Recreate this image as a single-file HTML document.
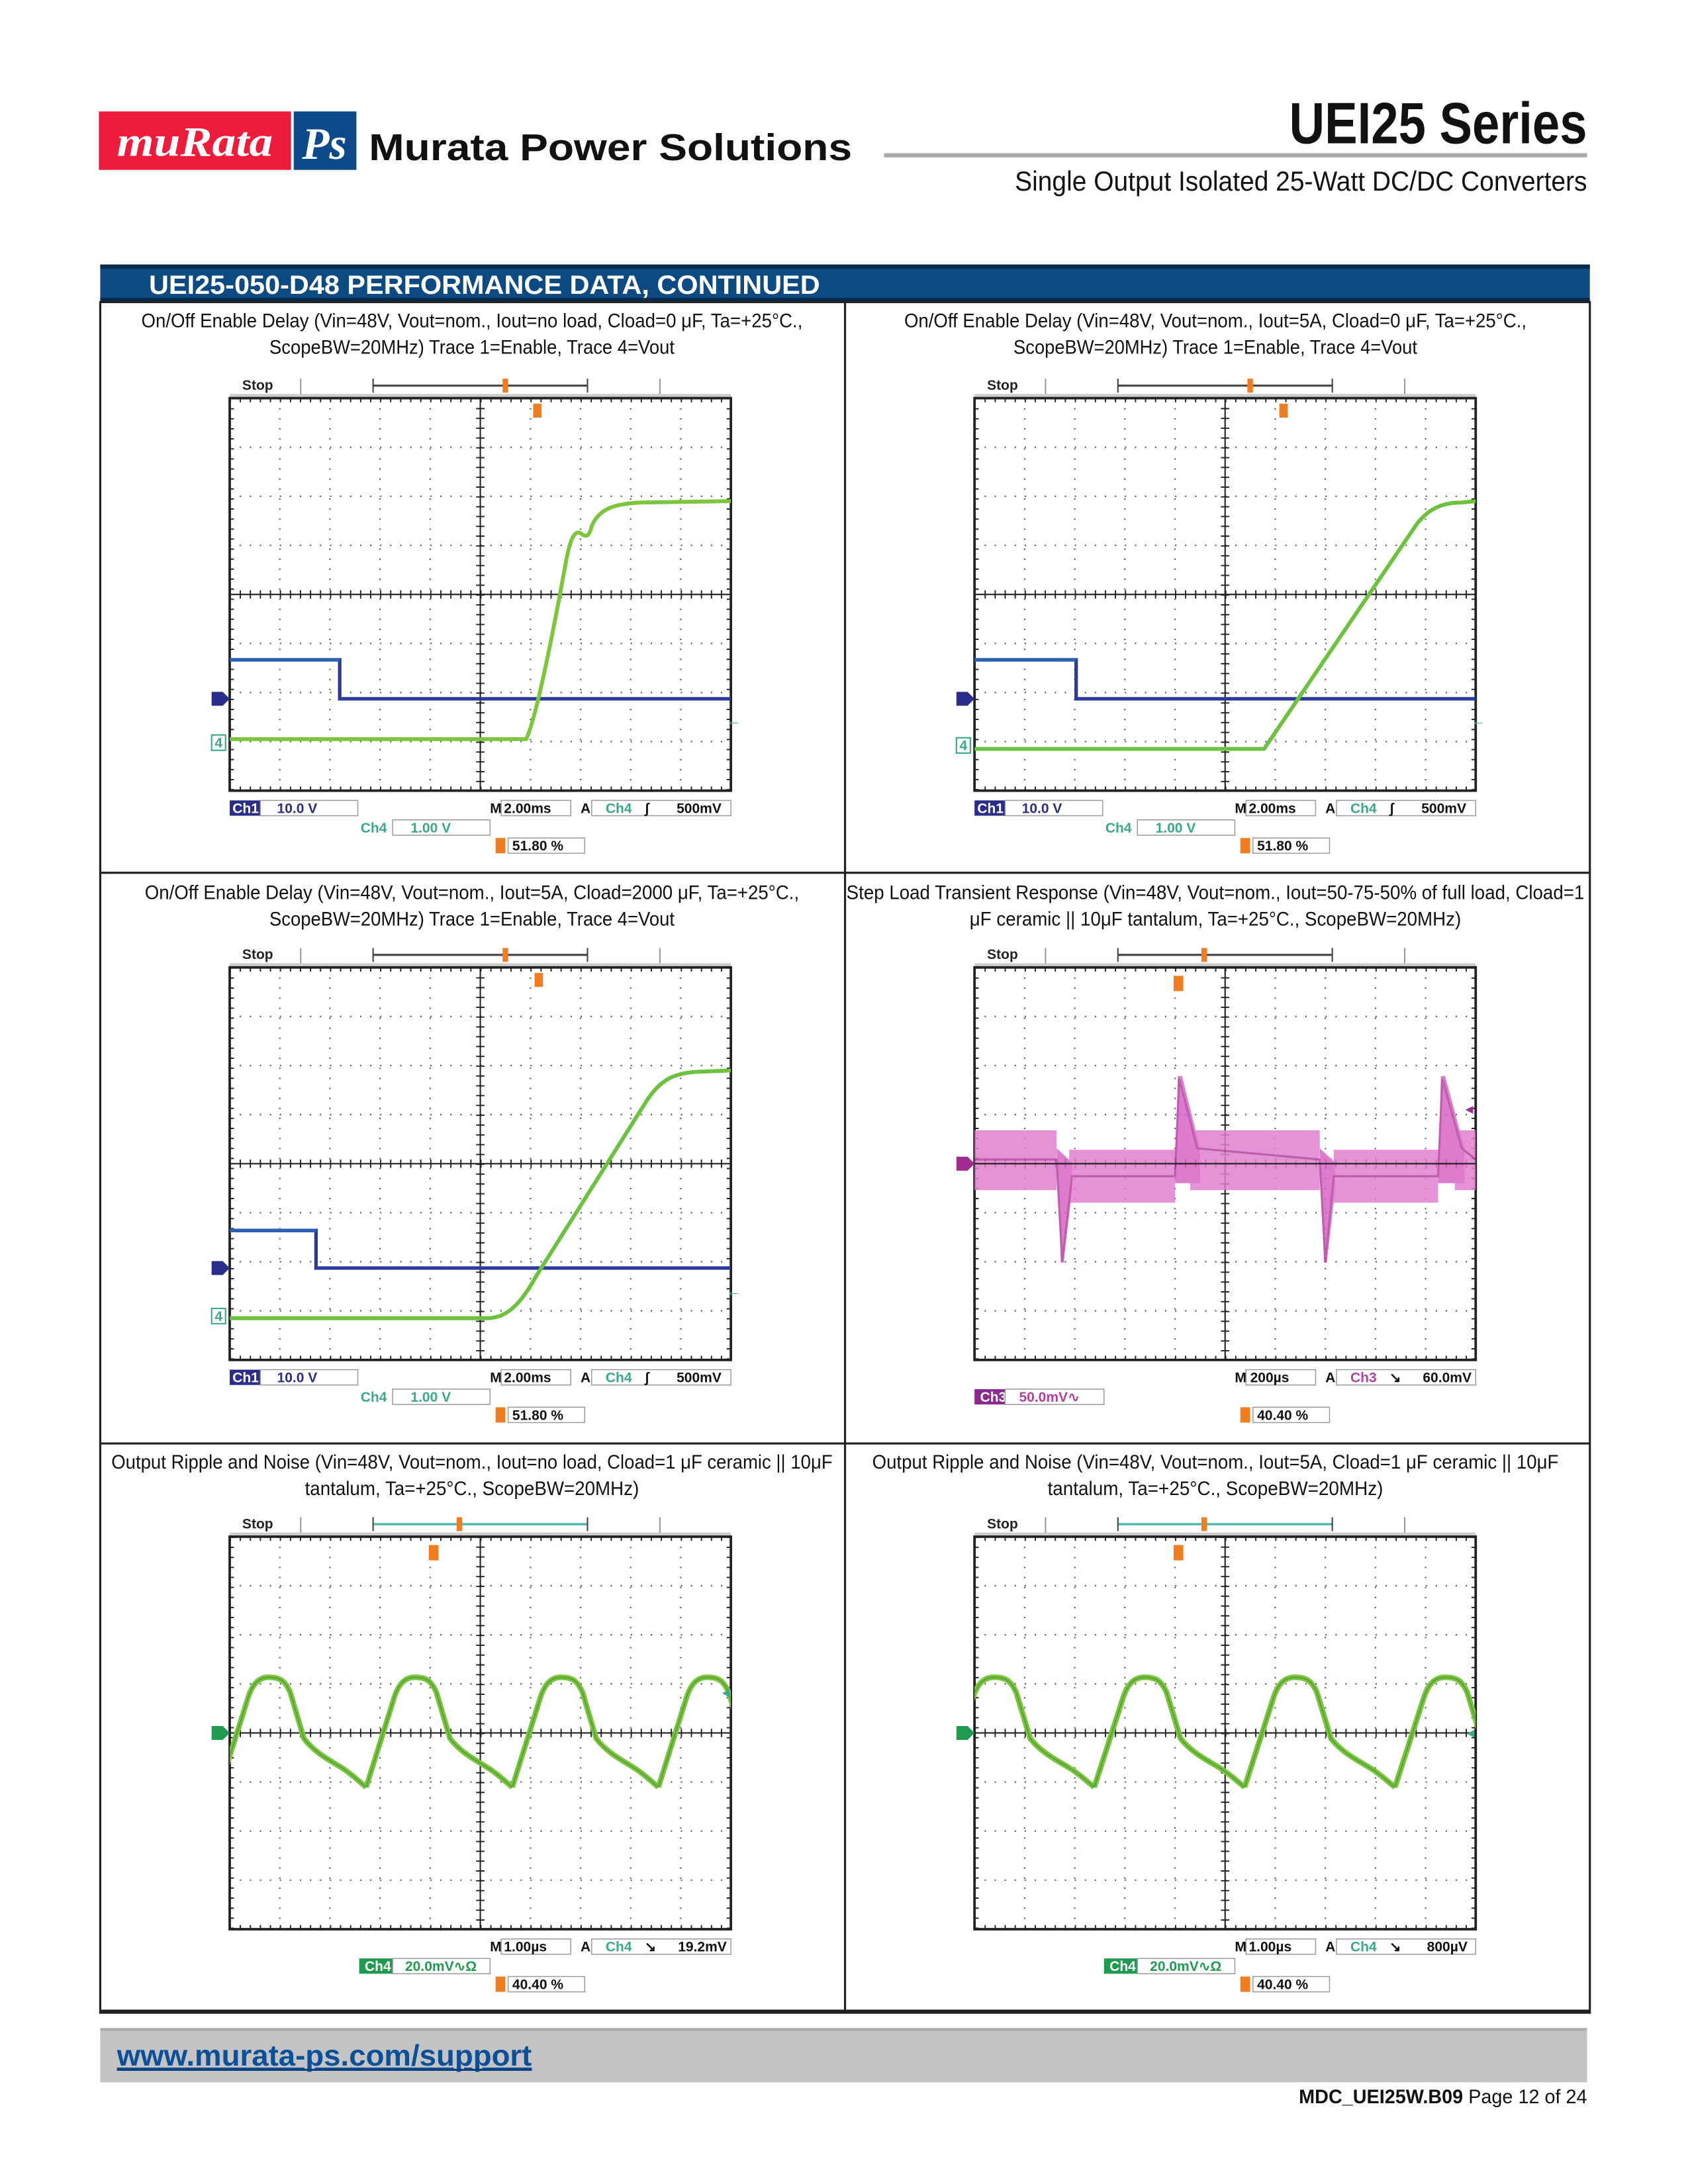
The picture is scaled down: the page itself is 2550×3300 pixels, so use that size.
<!DOCTYPE html>
<html><head><meta charset="utf-8">
<style>
html,body{margin:0;padding:0;background:#fff;}
svg{display:block;}
.cap{font-family:"Liberation Sans",sans-serif;font-size:14px;fill:#111;}
.sl{font-family:"Liberation Sans",sans-serif;font-size:10px;font-weight:bold;}
</style></head><body>
<svg width="2550" height="3300" viewBox="0 0 1212.5 1569" xmlns="http://www.w3.org/2000/svg">
<defs>
  <g id="grid">
    <rect x="0" y="0" width="360" height="282" fill="#fff"/>
    <g stroke="#666" stroke-width="1.1" stroke-dasharray="1 6.2">
      <line x1="36" y1="0" x2="36" y2="282"/><line x1="72" y1="0" x2="72" y2="282"/>
      <line x1="108" y1="0" x2="108" y2="282"/><line x1="144" y1="0" x2="144" y2="282"/>
      <line x1="216" y1="0" x2="216" y2="282"/><line x1="252" y1="0" x2="252" y2="282"/>
      <line x1="288" y1="0" x2="288" y2="282"/><line x1="324" y1="0" x2="324" y2="282"/>
    </g>
    <g stroke="#666" stroke-width="1.1" stroke-dasharray="1 6.2">
      <line x1="0" y1="35.25" x2="360" y2="35.25"/><line x1="0" y1="70.5" x2="360" y2="70.5"/>
      <line x1="0" y1="105.75" x2="360" y2="105.75"/><line x1="0" y1="176.25" x2="360" y2="176.25"/>
      <line x1="0" y1="211.5" x2="360" y2="211.5"/><line x1="0" y1="246.75" x2="360" y2="246.75"/>
    </g>
    <line x1="180" y1="0" x2="180" y2="282" stroke="#222" stroke-width="1"/>
    <line x1="0" y1="141" x2="360" y2="141" stroke="#222" stroke-width="1"/>
    <line x1="180" y1="0" x2="180" y2="282" stroke="#222" stroke-width="6" stroke-dasharray="0.9 6.15"/>
    <line x1="0" y1="141" x2="360" y2="141" stroke="#222" stroke-width="6" stroke-dasharray="0.9 6.3"/>
    <g stroke="#222" stroke-width="3" stroke-dasharray="0.9 6.3">
      <line x1="1.5" y1="0" x2="1.5" y2="282"/><line x1="358.5" y1="0" x2="358.5" y2="282"/>
    </g>
    <g stroke="#222" stroke-width="3" stroke-dasharray="0.9 6.3">
      <line x1="0" y1="1.5" x2="360" y2="1.5"/><line x1="0" y1="280.5" x2="360" y2="280.5"/>
    </g>
    <rect x="0" y="0" width="360" height="282" fill="none" stroke="#222" stroke-width="1.8"/>
  </g>
  <g id="top">
    <text x="9" y="-6" class="sl" font-size="11" fill="#222">Stop</text>
    <line x1="51" y1="-14" x2="51" y2="0" stroke="#999" stroke-width="1"/>
    <line x1="309" y1="-14" x2="309" y2="0" stroke="#999" stroke-width="1"/>
    <rect x="0" y="-3" width="360" height="3" fill="#ccc"/>
  </g>
  <clipPath id="pc"><rect x="0" y="0" width="360" height="282"/></clipPath>
  <path id="rip" d="M0,180 L20,118 C24,104 30,101 36,101 C44,101 48,103 52,112 L62,145 C70,155 80,160 90,166 C98,171 103,176 108,180"/>
</defs>

<!-- Header -->
<rect x="71" y="80" width="138" height="42" fill="#ee1c3a"/>
<text x="140" y="112" text-anchor="middle" font-family="Liberation Serif,serif" font-style="italic" font-weight="bold" font-size="30" fill="#fff" textLength="112" lengthAdjust="spacingAndGlyphs">muRata</text>
<rect x="211" y="80" width="45" height="42" fill="#0d4a8a"/>
<text x="233" y="114" text-anchor="middle" font-family="Liberation Serif,serif" font-style="italic" font-weight="bold" font-size="32" fill="#fff">Ps</text>
<text x="265" y="115" font-family="Liberation Sans,sans-serif" font-weight="bold" font-size="27" fill="#111" textLength="347" lengthAdjust="spacingAndGlyphs">Murata Power Solutions</text>
<text x="1140" y="103" text-anchor="end" font-family="Liberation Sans,sans-serif" font-weight="bold" font-size="42" fill="#111" textLength="214" lengthAdjust="spacingAndGlyphs">UEI25 Series</text>
<rect x="635" y="110" width="505" height="3" fill="#aaa"/>
<text x="1140" y="137" text-anchor="end" font-family="Liberation Sans,sans-serif" font-size="20" fill="#111" textLength="411" lengthAdjust="spacingAndGlyphs">Single Output Isolated 25-Watt DC/DC Converters</text>

<!-- Section bar -->
<rect x="72" y="190" width="1070" height="27" fill="#0d4a82"/>
<rect x="72" y="190" width="1070" height="3" fill="#0a2a4a"/>
<rect x="72" y="214" width="1070" height="3" fill="#0a2a4a"/>
<text x="107" y="211" font-family="Liberation Sans,sans-serif" font-weight="bold" font-size="19" fill="#fff" textLength="482" lengthAdjust="spacingAndGlyphs">UEI25-050-D48 PERFORMANCE DATA, CONTINUED</text>

<!-- Table -->
<rect x="72" y="217" width="1070" height="1229" fill="none" stroke="#222" stroke-width="1.5"/>
<line x1="72" y1="1445" x2="1142" y2="1445" stroke="#222" stroke-width="2.5"/>
<line x1="607" y1="217" x2="607" y2="1446" stroke="#222" stroke-width="1.5"/>
<line x1="72" y1="627" x2="1142" y2="627" stroke="#222" stroke-width="1.5"/>
<line x1="72" y1="1037" x2="1142" y2="1037" stroke="#222" stroke-width="1.5"/>

<!-- Captions -->
<text class="cap" x="339" y="235" text-anchor="middle" textLength="475" lengthAdjust="spacingAndGlyphs">On/Off Enable Delay (Vin=48V, Vout=nom., Iout=no load, Cload=0 μF, Ta=+25°C.,</text>
<text class="cap" x="339" y="254" text-anchor="middle" textLength="291" lengthAdjust="spacingAndGlyphs">ScopeBW=20MHz) Trace 1=Enable, Trace 4=Vout</text>
<text class="cap" x="873" y="235" text-anchor="middle" textLength="447" lengthAdjust="spacingAndGlyphs">On/Off Enable Delay (Vin=48V, Vout=nom., Iout=5A, Cload=0 μF, Ta=+25°C.,</text>
<text class="cap" x="873" y="254" text-anchor="middle" textLength="290" lengthAdjust="spacingAndGlyphs">ScopeBW=20MHz) Trace 1=Enable, Trace 4=Vout</text>
<text class="cap" x="339" y="646" text-anchor="middle" textLength="470" lengthAdjust="spacingAndGlyphs">On/Off Enable Delay (Vin=48V, Vout=nom., Iout=5A, Cload=2000 μF, Ta=+25°C.,</text>
<text class="cap" x="339" y="665" text-anchor="middle" textLength="291" lengthAdjust="spacingAndGlyphs">ScopeBW=20MHz) Trace 1=Enable, Trace 4=Vout</text>
<text class="cap" x="873" y="646" text-anchor="middle" textLength="530" lengthAdjust="spacingAndGlyphs">Step Load Transient Response (Vin=48V, Vout=nom., Iout=50-75-50% of full load, Cload=1</text>
<text class="cap" x="873" y="665" text-anchor="middle" textLength="353" lengthAdjust="spacingAndGlyphs">μF ceramic || 10μF tantalum, Ta=+25°C., ScopeBW=20MHz)</text>
<text class="cap" x="339" y="1055" text-anchor="middle" textLength="518" lengthAdjust="spacingAndGlyphs">Output Ripple and Noise (Vin=48V, Vout=nom., Iout=no load, Cload=1 μF ceramic || 10μF</text>
<text class="cap" x="339" y="1074" text-anchor="middle" textLength="240" lengthAdjust="spacingAndGlyphs">tantalum, Ta=+25°C., ScopeBW=20MHz)</text>
<text class="cap" x="873" y="1055" text-anchor="middle" textLength="493" lengthAdjust="spacingAndGlyphs">Output Ripple and Noise (Vin=48V, Vout=nom., Iout=5A, Cload=1 μF ceramic || 10μF</text>
<text class="cap" x="873" y="1074" text-anchor="middle" textLength="241" lengthAdjust="spacingAndGlyphs">tantalum, Ta=+25°C., ScopeBW=20MHz)</text>

<!-- Plot 1 -->
<g transform="translate(165,286)">
  <use href="#top"/>
  <line x1="103" y1="-9" x2="257" y2="-9" stroke="#444" stroke-width="1.5"/>
  <line x1="103" y1="-14" x2="103" y2="-4" stroke="#444"/><line x1="257" y1="-14" x2="257" y2="-4" stroke="#444"/>
  <rect x="196" y="-14" width="4" height="10" fill="#f07d20"/>
  <use href="#grid"/>
  <rect x="218" y="4" width="6" height="10" fill="#f07d20"/>
  <g clip-path="url(#pc)">
    <polyline points="0,188 79,188 79,216 360,216" fill="none" stroke="#2b3a9a" stroke-width="2.5"/>
    <polyline points="0,188 79,188" fill="none" stroke="#2a60b8" stroke-width="2.5"/>
    <path d="M0,245 L213,245 C220,230 232,170 242,115 C245,100 248,95 252,97 C256,100 258,100 260,92 C265,80 275,76 295,75 L360,74" fill="none" stroke="#7cc63e" stroke-width="2.8"/>
  </g>
  <path d="M-13,211 h8 l5,5 l-5,5 h-8z" fill="#2b2d8a"/>
  <rect x="-13" y="242" width="10" height="11" fill="#fff" stroke="#3aa88a"/><text x="-8" y="251" class="sl" font-size="9" fill="#3aa88a" text-anchor="middle">4</text>
  <text x="357" y="235" class="sl" fill="#3aa88a" font-size="9">←</text>
  <rect x="0" y="289" width="22" height="11" fill="#2b2d8a"/><text x="2" y="298" class="sl" fill="#fff">Ch1</text>
  <rect x="22" y="289" width="70" height="11" fill="#fff" stroke="#999" stroke-width=".7"/><text x="34" y="298" class="sl" fill="#2b2d8a">10.0 V</text>
  <text x="187" y="298" class="sl" fill="#111">M</text>
  <rect x="195" y="289" width="50" height="11" fill="#fff" stroke="#999" stroke-width=".7"/><text x="197" y="298" class="sl" fill="#111">2.00ms</text>
  <text x="252" y="298" class="sl" fill="#111">A</text>
  <rect x="260" y="289" width="100" height="11" fill="#fff" stroke="#999" stroke-width=".7"/>
  <text x="270" y="298" class="sl" fill="#3aa88a">Ch4</text><text x="298" y="298" class="sl" fill="#111">ʃ</text><text x="321" y="298" class="sl" fill="#111">500mV</text>
  <text x="94" y="312" class="sl" fill="#3aa88a">Ch4</text>
  <rect x="117" y="303" width="70" height="11" fill="#fff" stroke="#999" stroke-width=".7"/><text x="130" y="312" class="sl" fill="#3aa88a">1.00 V</text>
  <rect x="191" y="316" width="7" height="11" fill="#f07d20"/>
  <rect x="200" y="316" width="55" height="11" fill="#fff" stroke="#999" stroke-width=".7"/><text x="203" y="325" class="sl" fill="#111">51.80 %</text>
</g>

<!-- Plot 2 -->
<g transform="translate(700,286)">
  <use href="#top"/>
  <line x1="103" y1="-9" x2="257" y2="-9" stroke="#444" stroke-width="1.5"/>
  <line x1="103" y1="-14" x2="103" y2="-4" stroke="#444"/><line x1="257" y1="-14" x2="257" y2="-4" stroke="#444"/>
  <rect x="196" y="-14" width="4" height="10" fill="#f07d20"/>
  <use href="#grid"/>
  <rect x="219" y="4" width="6" height="10" fill="#f07d20"/>
  <g clip-path="url(#pc)">
    <polyline points="0,188 73,188 73,216 360,216" fill="none" stroke="#2b3a9a" stroke-width="2.5"/>
    <polyline points="0,188 73,188" fill="none" stroke="#2a60b8" stroke-width="2.5"/>
    <path d="M0,252 L208,252 L318,90 C326,80 335,75 350,75 L360,74" fill="none" stroke="#6cc13e" stroke-width="2.8"/>
  </g>
  <path d="M-13,211 h8 l5,5 l-5,5 h-8z" fill="#2b2d8a"/>
  <rect x="-13" y="244" width="10" height="11" fill="#fff" stroke="#3aa88a"/><text x="-8" y="253" class="sl" font-size="9" fill="#3aa88a" text-anchor="middle">4</text>
  <text x="357" y="235" class="sl" fill="#3aa88a" font-size="9">←</text>
  <rect x="0" y="289" width="22" height="11" fill="#2b2d8a"/><text x="2" y="298" class="sl" fill="#fff">Ch1</text>
  <rect x="22" y="289" width="70" height="11" fill="#fff" stroke="#999" stroke-width=".7"/><text x="34" y="298" class="sl" fill="#2b2d8a">10.0 V</text>
  <text x="187" y="298" class="sl" fill="#111">M</text>
  <rect x="195" y="289" width="50" height="11" fill="#fff" stroke="#999" stroke-width=".7"/><text x="197" y="298" class="sl" fill="#111">2.00ms</text>
  <text x="252" y="298" class="sl" fill="#111">A</text>
  <rect x="260" y="289" width="100" height="11" fill="#fff" stroke="#999" stroke-width=".7"/>
  <text x="270" y="298" class="sl" fill="#3aa88a">Ch4</text><text x="298" y="298" class="sl" fill="#111">ʃ</text><text x="321" y="298" class="sl" fill="#111">500mV</text>
  <text x="94" y="312" class="sl" fill="#3aa88a">Ch4</text>
  <rect x="117" y="303" width="70" height="11" fill="#fff" stroke="#999" stroke-width=".7"/><text x="130" y="312" class="sl" fill="#3aa88a">1.00 V</text>
  <rect x="191" y="316" width="7" height="11" fill="#f07d20"/>
  <rect x="200" y="316" width="55" height="11" fill="#fff" stroke="#999" stroke-width=".7"/><text x="203" y="325" class="sl" fill="#111">51.80 %</text>
</g>

<!-- Plot 3 -->
<g transform="translate(165,695)">
  <use href="#top"/>
  <line x1="103" y1="-9" x2="257" y2="-9" stroke="#444" stroke-width="1.5"/>
  <line x1="103" y1="-14" x2="103" y2="-4" stroke="#444"/><line x1="257" y1="-14" x2="257" y2="-4" stroke="#444"/>
  <rect x="196" y="-14" width="4" height="10" fill="#f07d20"/>
  <use href="#grid"/>
  <rect x="219" y="4" width="6" height="10" fill="#f07d20"/>
  <g clip-path="url(#pc)">
    <polyline points="0,189 62,189 62,216 360,216" fill="none" stroke="#2b3a9a" stroke-width="2.5"/>
    <polyline points="0,189 62,189" fill="none" stroke="#2a60b8" stroke-width="2.5"/>
    <path d="M0,252 L185,252 C200,252 210,240 220,222 L300,95 C310,80 320,76 335,75 L360,74" fill="none" stroke="#6cc13e" stroke-width="2.8"/>
  </g>
  <path d="M-13,211 h8 l5,5 l-5,5 h-8z" fill="#2b2d8a"/>
  <rect x="-13" y="245" width="10" height="11" fill="#fff" stroke="#3aa88a"/><text x="-8" y="254" class="sl" font-size="9" fill="#3aa88a" text-anchor="middle">4</text>
  <text x="357" y="236" class="sl" fill="#3aa88a" font-size="9">←</text>
  <rect x="0" y="289" width="22" height="11" fill="#2b2d8a"/><text x="2" y="298" class="sl" fill="#fff">Ch1</text>
  <rect x="22" y="289" width="70" height="11" fill="#fff" stroke="#999" stroke-width=".7"/><text x="34" y="298" class="sl" fill="#2b2d8a">10.0 V</text>
  <text x="187" y="298" class="sl" fill="#111">M</text>
  <rect x="195" y="289" width="50" height="11" fill="#fff" stroke="#999" stroke-width=".7"/><text x="197" y="298" class="sl" fill="#111">2.00ms</text>
  <text x="252" y="298" class="sl" fill="#111">A</text>
  <rect x="260" y="289" width="100" height="11" fill="#fff" stroke="#999" stroke-width=".7"/>
  <text x="270" y="298" class="sl" fill="#3aa88a">Ch4</text><text x="298" y="298" class="sl" fill="#111">ʃ</text><text x="321" y="298" class="sl" fill="#111">500mV</text>
  <text x="94" y="312" class="sl" fill="#3aa88a">Ch4</text>
  <rect x="117" y="303" width="70" height="11" fill="#fff" stroke="#999" stroke-width=".7"/><text x="130" y="312" class="sl" fill="#3aa88a">1.00 V</text>
  <rect x="191" y="316" width="7" height="11" fill="#f07d20"/>
  <rect x="200" y="316" width="55" height="11" fill="#fff" stroke="#999" stroke-width=".7"/><text x="203" y="325" class="sl" fill="#111">51.80 %</text>
</g>

<!-- Plot 4 -->
<g transform="translate(700,695)">
  <use href="#top"/>
  <line x1="103" y1="-9" x2="257" y2="-9" stroke="#444" stroke-width="1.5"/>
  <line x1="103" y1="-14" x2="103" y2="-4" stroke="#444"/><line x1="257" y1="-14" x2="257" y2="-4" stroke="#444"/>
  <rect x="163" y="-14" width="4" height="10" fill="#f07d20"/>
  <use href="#grid"/>
  <rect x="143" y="6" width="7" height="11" fill="#f07d20"/>
  <g clip-path="url(#pc)" opacity="0.85">
    <polygon points="0,117 59,117 59,160 0,160" fill="#e27fd0"/>
    <polygon points="68,131 144,131 144,169 68,169" fill="#e27fd0"/>
    <polygon points="155,117 248,117 248,160 155,160" fill="#e27fd0"/>
    <polygon points="258,131 333,131 333,169 258,169" fill="#e27fd0"/>
    <polygon points="345,117 360,117 360,160 345,160" fill="#e27fd0"/>
    <polygon points="59,130 62,212 64,212 70,160 70,140 59,130" fill="#d865c4"/>
    <polygon points="248,130 251,212 253,212 259,160 259,140 248,130" fill="#d865c4"/>
    <polygon points="144,155 146,78 149,78 162,130 162,155" fill="#d865c4"/>
    <polygon points="333,155 335,78 338,78 352,130 352,155" fill="#d865c4"/>
    <path d="M0,138 L59,138 L63,212 L70,150 L144,150 L147,80 L160,130 L248,138 L252,212 L258,150 L333,150 L336,80 L350,130 L360,138" fill="none" stroke="#b3429f" stroke-width="1.5"/>
  </g>
  <line x1="0" y1="141" x2="360" y2="141" stroke="#222" stroke-width="1"/>
  <path d="M-13,136 h8 l5,5 l-5,5 h-8z" fill="#a02a90"/>
  <text x="353" y="105" class="sl" fill="#a02a90" font-size="9">◂</text>
  <text x="187" y="298" class="sl" fill="#111">M</text>
  <rect x="195" y="289" width="50" height="11" fill="#fff" stroke="#999" stroke-width=".7"/><text x="198" y="298" class="sl" fill="#111">200µs</text>
  <text x="252" y="298" class="sl" fill="#111">A</text>
  <rect x="260" y="289" width="100" height="11" fill="#fff" stroke="#999" stroke-width=".7"/>
  <text x="270" y="298" class="sl" fill="#b3429f">Ch3</text><text x="298" y="298" class="sl" fill="#111">↘</text><text x="322" y="298" class="sl" fill="#111">60.0mV</text>
  <rect x="0" y="303" width="22" height="11" fill="#8a2a90"/><text x="4" y="312" class="sl" fill="#fff">Ch3</text>
  <rect x="22" y="303" width="71" height="11" fill="#fff" stroke="#999" stroke-width=".7"/><text x="32" y="312" class="sl" fill="#b3429f">50.0mV∿</text>
  <rect x="191" y="316" width="7" height="11" fill="#f07d20"/>
  <rect x="200" y="316" width="55" height="11" fill="#fff" stroke="#999" stroke-width=".7"/><text x="203" y="325" class="sl" fill="#111">40.40 %</text>
</g>

<!-- Plot 5 -->
<g transform="translate(165,1104)">
  <use href="#top"/>
  <line x1="103" y1="-9" x2="257" y2="-9" stroke="#3fb8a8" stroke-width="1.5"/>
  <line x1="103" y1="-14" x2="103" y2="-4" stroke="#444"/><line x1="257" y1="-14" x2="257" y2="-4" stroke="#444"/>
  <rect x="163" y="-14" width="4" height="10" fill="#f07d20"/>
  <use href="#grid"/>
  <rect x="143" y="6" width="7" height="11" fill="#f07d20"/>
  <g clip-path="url(#pc)" fill="none" stroke="#7cc63e" stroke-width="4" stroke-linejoin="round">
    <g transform="translate(-7,0) scale(0.972,1)">
      <use href="#rip" x="-108"/><use href="#rip"/><use href="#rip" x="108"/><use href="#rip" x="216"/><use href="#rip" x="324"/>
    </g>
  </g>
  <g clip-path="url(#pc)" fill="none" stroke="#5aa63a" stroke-width="1.2">
    <g transform="translate(-7,0) scale(0.972,1)">
      <use href="#rip" x="-108"/><use href="#rip"/><use href="#rip" x="108"/><use href="#rip" x="216"/><use href="#rip" x="324"/>
    </g>
  </g>
  <path d="M-13,136 h8 l5,5 l-5,5 h-8z" fill="#1f9a50"/>
  <text x="354" y="115" class="sl" fill="#3aa88a" font-size="9">◂</text>
  <text x="187" y="298" class="sl" fill="#111">M</text>
  <rect x="195" y="289" width="50" height="11" fill="#fff" stroke="#999" stroke-width=".7"/><text x="197" y="298" class="sl" fill="#111">1.00µs</text>
  <text x="252" y="298" class="sl" fill="#111">A</text>
  <rect x="260" y="289" width="100" height="11" fill="#fff" stroke="#999" stroke-width=".7"/>
  <text x="270" y="298" class="sl" fill="#3aa88a">Ch4</text><text x="298" y="298" class="sl" fill="#111">↘</text><text x="322" y="298" class="sl" fill="#111">19.2mV</text>
  <rect x="93" y="303" width="24" height="11" fill="#1f9a50"/><text x="97" y="312" class="sl" fill="#fff">Ch4</text>
  <rect x="117" y="303" width="70" height="11" fill="#fff" stroke="#999" stroke-width=".7"/><text x="126" y="312" class="sl" fill="#1f9a50">20.0mV∿Ω</text>
  <rect x="191" y="316" width="7" height="11" fill="#f07d20"/>
  <rect x="200" y="316" width="55" height="11" fill="#fff" stroke="#999" stroke-width=".7"/><text x="203" y="325" class="sl" fill="#111">40.40 %</text>
</g>

<!-- Plot 6 -->
<g transform="translate(700,1104)">
  <use href="#top"/>
  <line x1="103" y1="-9" x2="257" y2="-9" stroke="#3fb8a8" stroke-width="1.5"/>
  <line x1="103" y1="-14" x2="103" y2="-4" stroke="#444"/><line x1="257" y1="-14" x2="257" y2="-4" stroke="#444"/>
  <rect x="163" y="-14" width="4" height="10" fill="#f07d20"/>
  <use href="#grid"/>
  <rect x="143" y="6" width="7" height="11" fill="#f07d20"/>
  <g clip-path="url(#pc)" fill="none" stroke="#7cc63e" stroke-width="4" stroke-linejoin="round">
    <g transform="translate(-22,0)">
      <use href="#rip"/><use href="#rip" x="108"/><use href="#rip" x="216"/><use href="#rip" x="324"/>
    </g>
  </g>
  <g clip-path="url(#pc)" fill="none" stroke="#5aa63a" stroke-width="1.2">
    <g transform="translate(-22,0)">
      <use href="#rip"/><use href="#rip" x="108"/><use href="#rip" x="216"/><use href="#rip" x="324"/>
    </g>
  </g>
  <path d="M-13,136 h8 l5,5 l-5,5 h-8z" fill="#1f9a50"/>
  <text x="354" y="144" class="sl" fill="#3aa88a" font-size="9">◂</text>
  <text x="187" y="298" class="sl" fill="#111">M</text>
  <rect x="195" y="289" width="50" height="11" fill="#fff" stroke="#999" stroke-width=".7"/><text x="197" y="298" class="sl" fill="#111">1.00µs</text>
  <text x="252" y="298" class="sl" fill="#111">A</text>
  <rect x="260" y="289" width="100" height="11" fill="#fff" stroke="#999" stroke-width=".7"/>
  <text x="270" y="298" class="sl" fill="#3aa88a">Ch4</text><text x="298" y="298" class="sl" fill="#111">↘</text><text x="325" y="298" class="sl" fill="#111">800µV</text>
  <rect x="93" y="303" width="24" height="11" fill="#1f9a50"/><text x="97" y="312" class="sl" fill="#fff">Ch4</text>
  <rect x="117" y="303" width="70" height="11" fill="#fff" stroke="#999" stroke-width=".7"/><text x="126" y="312" class="sl" fill="#1f9a50">20.0mV∿Ω</text>
  <rect x="191" y="316" width="7" height="11" fill="#f07d20"/>
  <rect x="200" y="316" width="55" height="11" fill="#fff" stroke="#999" stroke-width=".7"/><text x="203" y="325" class="sl" fill="#111">40.40 %</text>
</g>

<!-- Footer -->
<rect x="72" y="1457" width="1068" height="39" fill="#c3c3c3"/>
<rect x="72" y="1457" width="1068" height="2" fill="#aaa"/>
<text x="84" y="1484" font-family="Liberation Sans,sans-serif" font-weight="bold" font-size="21" fill="#0a4f9a" text-decoration="underline" textLength="298" lengthAdjust="spacingAndGlyphs">www.murata-ps.com/support</text>
<line x1="84" y1="1487" x2="382" y2="1487" stroke="#0a3f7a" stroke-width="1.5"/>
<text x="1140" y="1511" text-anchor="end" font-family="Liberation Sans,sans-serif" font-size="14" fill="#111" textLength="207" lengthAdjust="spacingAndGlyphs"><tspan font-weight="bold">MDC_UEI25W.B09</tspan>  Page 12 of 24</text>
</svg>
</body></html>
